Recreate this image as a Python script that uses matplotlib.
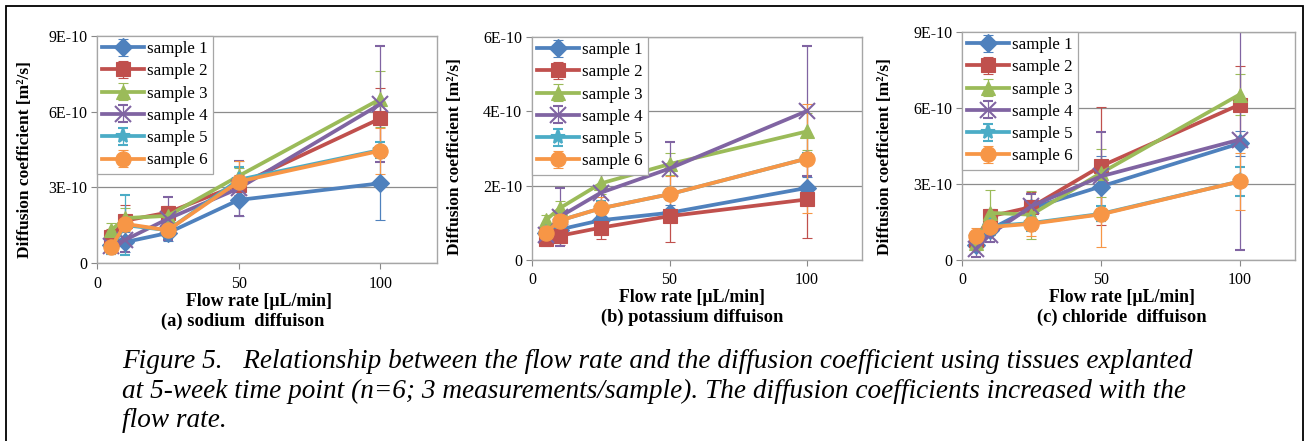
import numpy as np
import matplotlib
matplotlib.use("Agg")
import matplotlib.pyplot as plt
from matplotlib.patches import Rectangle

plt.rcParams['font.family'] = ['Liberation Serif', 'DejaVu Serif']

# flow rate [uL/min]
flujo = [5, 10, 25, 50, 100]
muestras = ['sample 1', 'sample 2', 'sample 3', 'sample 4', 'sample 5', 'sample 6']

# valores en unidades de 1E-10 m2/s
sodio = [
    [0.72, 0.83, 1.19, 2.50, 3.16],
    [1.05, 1.68, 2.00, 3.10, 5.73],
    [1.30, 1.78, 1.87, 3.45, 6.50],
    [0.66, 0.92, 1.75, 2.96, 6.30],
    [0.60, 1.50, 1.30, 3.30, 4.48],
    [0.63, 1.55, 1.30, 3.23, 4.45],
]
sodio_err = [
    [0.30, 0.40, 0.30, 0.65, 1.45],
    [0.30, 0.60, 0.27, 0.40, 1.20],
    [0.28, 0.40, 0.35, 0.30, 1.10],
    [0.30, 0.50, 0.85, 1.10, 2.30],
    [0.25, 1.20, 0.30, 0.50, 0.30],
    [0.20, 0.30, 0.25, 0.80, 0.92],
]

potasio = [
    [0.72, 0.82, 1.07, 1.27, 1.94],
    [0.56, 0.65, 0.87, 1.18, 1.63],
    [1.07, 1.39, 2.06, 2.58, 3.46],
    [0.67, 1.16, 1.81, 2.46, 4.01],
    [0.73, 1.06, 1.39, 1.77, 2.73],
    [0.73, 1.06, 1.39, 1.77, 2.73],
]
potasio_err = [
    [0.15, 0.20, 0.20, 0.20, 0.30],
    [0.10, 0.25, 0.31, 0.69, 1.03],
    [0.15, 0.20, 0.28, 0.30, 0.50],
    [0.30, 0.78, 0.83, 0.72, 1.76],
    [0.15, 0.15, 0.20, 0.15, 0.15],
    [0.15, 0.20, 0.30, 0.50, 1.47],
]

cloruro = [
    [0.60, 1.20, 2.05, 2.90, 4.60],
    [0.80, 1.72, 2.09, 3.70, 6.13],
    [0.67, 1.86, 1.79, 3.43, 6.53],
    [0.43, 1.00, 2.12, 3.30, 4.75],
    [0.91, 1.33, 1.46, 1.82, 3.10],
    [0.93, 1.30, 1.43, 1.80, 3.10],
]
cloruro_err = [
    [0.20, 0.20, 0.30, 1.20, 0.50],
    [0.20, 0.30, 0.60, 2.33, 1.51],
    [0.20, 0.89, 0.95, 0.95, 0.82],
    [0.30, 0.30, 0.50, 1.75, 4.34],
    [0.20, 0.20, 0.30, 0.30, 0.56],
    [0.35, 0.30, 0.50, 1.28, 1.14],
]

colores = ['#4F81BD', '#C0504D', '#9BBB59', '#8064A2', '#4BACC6', '#F79646']
marcadores = ['D', 's', '^', 'x', '*', 'o']
tamanos = [9, 10, 10, 11, 11, 11]

W, H = 1306, 441
fig = plt.figure(figsize=(W / 100, H / 100), dpi=100)

def caja(l, t, r, b):
    return [l / W, 1 - b / H, (r - l) / W, (b - t) / H]

paneles = [
    (caja(97, 36, 437, 263), sodio, sodio_err, 9, [0, 3, 6, 9], ['0', '3E-10', '6E-10', '9E-10']),
    (caja(532, 37, 862, 260), potasio, potasio_err, 6, [0, 2, 4, 6], ['0', '2E-10', '4E-10', '6E-10']),
    (caja(962, 32, 1295, 260), cloruro, cloruro_err, 9, [0, 3, 6, 9], ['0', '3E-10', '6E-10', '9E-10']),
]

for pos, datos, errores, ymax, yt, ytl in paneles:
    ax = fig.add_axes(pos)
    for i in range(6):
        ax.errorbar(flujo, datos[i], yerr=errores[i], color=colores[i], ecolor=colores[i],
                    elinewidth=0.9, capsize=3.5, capthick=0.9, linewidth=2.7,
                    marker=marcadores[i], markersize=tamanos[i], markeredgewidth=1.5 if i in (3, 4) else 0.8,
                    label=muestras[i], clip_on=True)
    ax.set_xlim(0, 120)
    ax.set_ylim(0, ymax)
    ax.set_xticks([0, 50, 100])
    ax.set_yticks(yt)
    ax.set_yticklabels(ytl)
    ax.tick_params(labelsize=11.5, color='#888888', length=4, width=0.8, pad=3)
    ax.tick_params(axis='x', pad=5)
    ax.grid(axis='y', color='#8C8C8C', linewidth=0.9)
    ax.set_axisbelow(True)
    for s in ax.spines.values():
        s.set_color('#A6A6A6')
        s.set_linewidth(1.0)
    leg = ax.legend(loc='upper left', fontsize=12.2, handlelength=2.5, handletextpad=0.15,
                    borderaxespad=0.0, borderpad=0.3, labelspacing=0.37, fancybox=False,
                    framealpha=1, edgecolor='#A6A6A6')
    leg.get_frame().set_linewidth(0.9)

# etiquetas de los ejes y subtitulos
ylab = 'Diffusion coefficient [m\u00b2/s]'
for x, y in [(25, 160), (455, 157), (885, 157)]:
    fig.text(x / W, 1 - y / H, ylab, rotation=90, ha='center', va='center',
             fontsize=12.5, fontweight='bold')
for x, y, xs, sub in [(259, 301, 243, '(a) sodium  diffuison'), (692, 297, 692, '(b) potassium diffuison'),
                      (1122, 297, 1122, '(c) chloride  diffuison')]:
    fig.text(x / W, 1 - y / H, 'Flow rate [\u00b5L/min]', ha='center', va='center',
             fontsize=12.8, fontweight='bold')
    fig.text(xs / W, 1 - (y + 20) / H, sub, ha='center', va='center',
             fontsize=13.3, fontweight='bold')

caption = ['Figure 5.   Relationship between the flow rate and the diffusion coefficient using tissues explanted',
           'at 5-week time point (n=6; 3 measurements/sample). The diffusion coefficients increased with the',
           'flow rate.']
for k, linea in enumerate(caption):
    fig.text(122 / W, 1 - (368 + 29.5 * k) / H, linea, ha='left', va='baseline', fontsize=19.6, style='italic')

fig.patches.append(Rectangle((6 / W, -0.02), (1303 - 6) / W, 1.02 - 6 / H, transform=fig.transFigure,
                             fill=False, edgecolor='black', linewidth=1.3))

plt.savefig('out.png', dpi=100)
